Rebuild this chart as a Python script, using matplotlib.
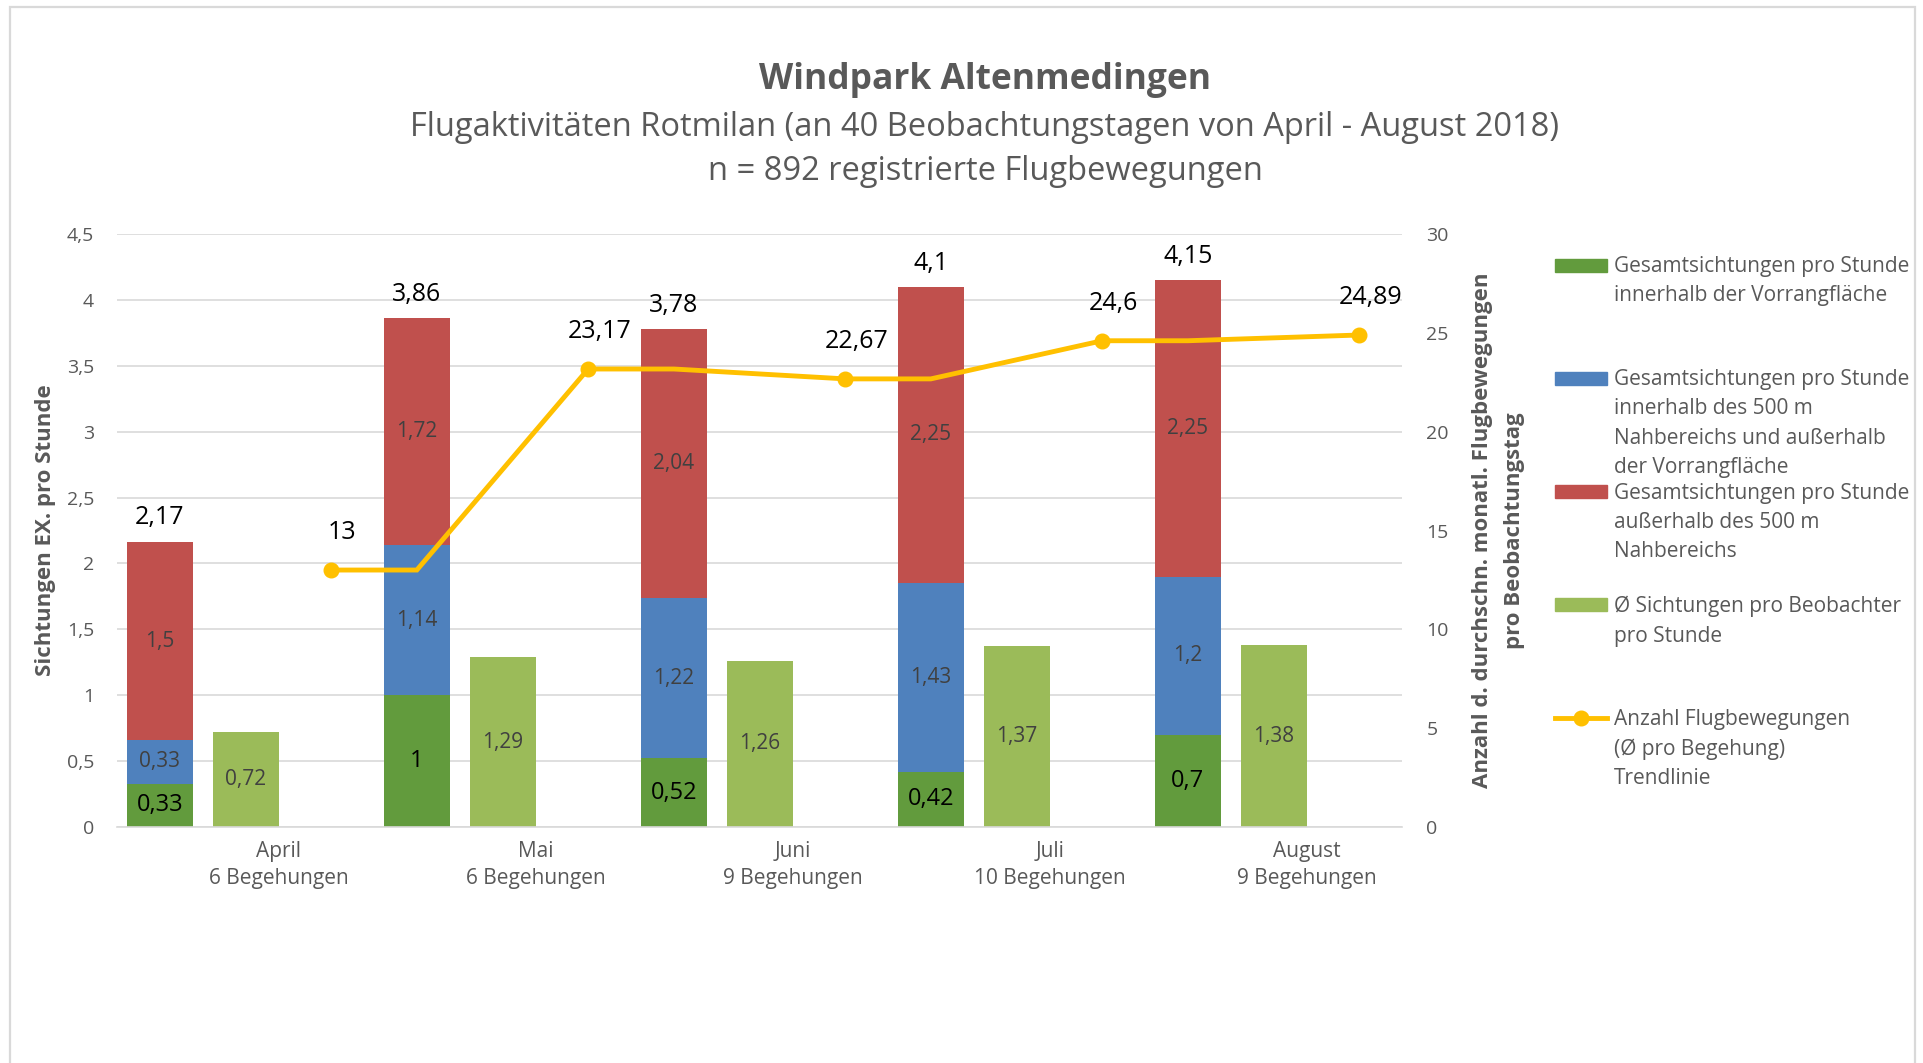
import numpy as np
import matplotlib
matplotlib.use("Agg")
import matplotlib.pyplot as plt
from matplotlib.patches import Rectangle
from matplotlib.lines import Line2D

plt.rcParams['font.family'] = ['Open Sans', 'DejaVu Sans']

# data
months = ["April", "Mai", "Juni", "Juli", "August"]
begehungen = ["6 Begehungen", "6 Begehungen", "9 Begehungen", "10 Begehungen", "9 Begehungen"]
innerhalb_vorrang = [0.33, 1.0, 0.52, 0.42, 0.70]
nahbereich = [0.33, 1.14, 1.22, 1.43, 1.20]
ausserhalb = [1.50, 1.72, 2.04, 2.25, 2.25]
totals = [2.17, 3.86, 3.78, 4.10, 4.15]
pro_beobachter = [0.72, 1.29, 1.26, 1.37, 1.38]
flugbewegungen = [13, 23.17, 22.67, 24.6, 24.89]

legend_labels = [
    "Gesamtsichtungen pro Stunde\ninnerhalb der Vorrangfläche",
    "Gesamtsichtungen pro Stunde\ninnerhalb des 500 m\nNahbereichs und außerhalb\nder Vorrangfläche",
    "Gesamtsichtungen pro Stunde\naußerhalb des 500 m\nNahbereichs",
    "Ø Sichtungen pro Beobachter\npro Stunde",
    "Anzahl Flugbewegungen\n(Ø pro Begehung)\nTrendlinie",
]

c_green = "#629B3D"
c_blue = "#4F81BD"
c_red = "#C0504D"
c_light = "#9BBB59"
c_line = "#FFC000"
gray = "#595959"


def fmt(v):
    return f"{v:g}".replace(".", ",")


W, H = 1923, 1063
fig = plt.figure(figsize=(W / 100, H / 100), dpi=100)

# outer chart border
fig.patches.append(Rectangle((10 / W, -0.05), (1915 - 10) / W, 1.05 - 7 / H,
                             transform=fig.transFigure, fill=False,
                             edgecolor="#D9D9D9", lw=1.6))

ax = fig.add_axes([117 / W, 1 - 827 / H, (1402 - 117) / W, (827 - 234) / H])
ax2 = ax.twinx()

x = np.arange(len(months))
bw = 0.257
xs = x + 0.167
xl = x + 0.502

b1 = np.array(innerhalb_vorrang)
b2 = np.array(nahbereich)
b3 = np.array(ausserhalb)

ax.bar(xs, b1, bw, color=c_green, zorder=2)
ax.bar(xs, b2, bw, bottom=b1, color=c_blue, zorder=2)
ax.bar(xs, b3, bw, bottom=b1 + b2, color=c_red, zorder=2)
ax.bar(xl, pro_beobachter, bw, color=c_light, zorder=2)

for i in range(len(months)):
    ax.text(xs[i], b1[i] / 2, fmt(b1[i]), ha="center", va="center",
            fontsize=17, color="black", zorder=3)
    ax.text(xs[i], b1[i] + b2[i] / 2, fmt(b2[i]), ha="center", va="center",
            fontsize=15, color="#404040", zorder=3)
    ax.text(xs[i], b1[i] + b2[i] + b3[i] / 2, fmt(b3[i]), ha="center", va="center",
            fontsize=15, color="#404040", zorder=3)
    ax.text(xl[i], pro_beobachter[i] / 2, fmt(pro_beobachter[i]), ha="center",
            va="center", fontsize=15, color="#404040", zorder=3)
    ax.annotate(fmt(totals[i]), (xs[i], totals[i]), xytext=(0, 17),
                textcoords="offset points", ha="center", va="center",
                fontsize=18, color="black")

ax.set_xlim(0, 5)
ax.set_ylim(0, 4.5)
ax.set_yticks(np.arange(0, 4.51, 0.5))
ax.set_yticklabels([fmt(v) for v in np.arange(0, 4.51, 0.5)])
ax.set_xticks(x + 0.63)
ax.set_xticklabels([f"{m}\n{b}" for m, b in zip(months, begehungen)],
                   linespacing=1.4)
ax.tick_params(axis="x", length=0, pad=10, labelsize=15, labelcolor=gray)
ax.tick_params(axis="y", length=0, pad=16.5, labelsize=14, labelcolor=gray)
ax.grid(axis="y", color="#D9D9D9", lw=1.2, zorder=0)
ax.set_axisbelow(True)
for s in ["top", "left", "right"]:
    ax.spines[s].set_visible(False)
ax.spines["bottom"].set_color("#D9D9D9")
ax.spines["bottom"].set_linewidth(1.2)
ax.set_ylabel("Sichtungen EX. pro Stunde", fontsize=16, fontweight="bold",
              color=gray, va="center")
ax.yaxis.set_label_coords(-0.0555, 0.5)

# trend line on secondary axis
lx, ly, marks = [], [], []
for i, v in enumerate(flugbewegungen):
    marks.append(len(lx))
    lx.append(i + 5 / 6)
    ly.append(v)
    if i < len(flugbewegungen) - 1:
        lx.append(i + 1 + 1 / 6)
        ly.append(v)
ax2.plot(lx, ly, color=c_line, lw=3.5, marker="o", markersize=10.5,
         markevery=marks, solid_joinstyle="miter", zorder=4)
for i, v in enumerate(flugbewegungen):
    ax2.annotate(fmt(v), (i + 5 / 6, v), xytext=(8, 27), textcoords="offset points",
                 ha="center", va="center", fontsize=18, color="black")

ax2.set_ylim(0, 30)
ax2.set_yticks(np.arange(0, 31, 5))
ax2.tick_params(axis="y", length=0, pad=17.5, labelsize=14, labelcolor=gray)
for s in ax2.spines.values():
    s.set_visible(False)
ax2.set_ylabel("Anzahl d. durchschn. monatl. Flugbewegungen\npro Beobachtungstag",
               fontsize=16, fontweight="bold", color=gray, va="center",
               rotation=90, linespacing=1.7)
ax2.yaxis.set_label_position("right")
ax2.yaxis.set_label_coords(1.0545, 0.5)

# titles
fig.text(985 / W, 1 - 80 / H, "Windpark Altenmedingen", ha="center", va="center",
         fontsize=25.5, fontweight="bold", color=gray)
fig.text(985 / W, 1 - 128 / H,
         "Flugaktivitäten Rotmilan (an 40 Beobachtungstagen von April - August 2018)",
         ha="center", va="center", fontsize=23.5, color=gray)
fig.text(985 / W, 1 - 172 / H, "n = 892 registrierte Flugbewegungen",
         ha="center", va="center", fontsize=23.5, color=gray)

# legend
leg_colors = [c_green, c_blue, c_red, c_light]
y0, dy = 265, 113.3
for k, lab in enumerate(legend_labels):
    yc = 1 - (y0 + k * dy) / H
    if k < 4:
        fig.patches.append(Rectangle((1555 / W, yc - 6.5 / H), 52 / W, 13 / H,
                                     transform=fig.transFigure,
                                     color=leg_colors[k]))
    else:
        fig.lines.append(Line2D([1555 / W, 1607 / W], [yc, yc], transform=fig.transFigure,
                                color=c_line, lw=3.5))
        fig.lines.append(Line2D([1581 / W], [yc], transform=fig.transFigure,
                                color=c_line, marker="o", markersize=10.5))
    fig.text(1614 / W, yc + 9 / H, lab, ha="left", va="top", fontsize=15,
             color=gray, linespacing=1.51)

fig.savefig("out.png", dpi=100, facecolor="white")
